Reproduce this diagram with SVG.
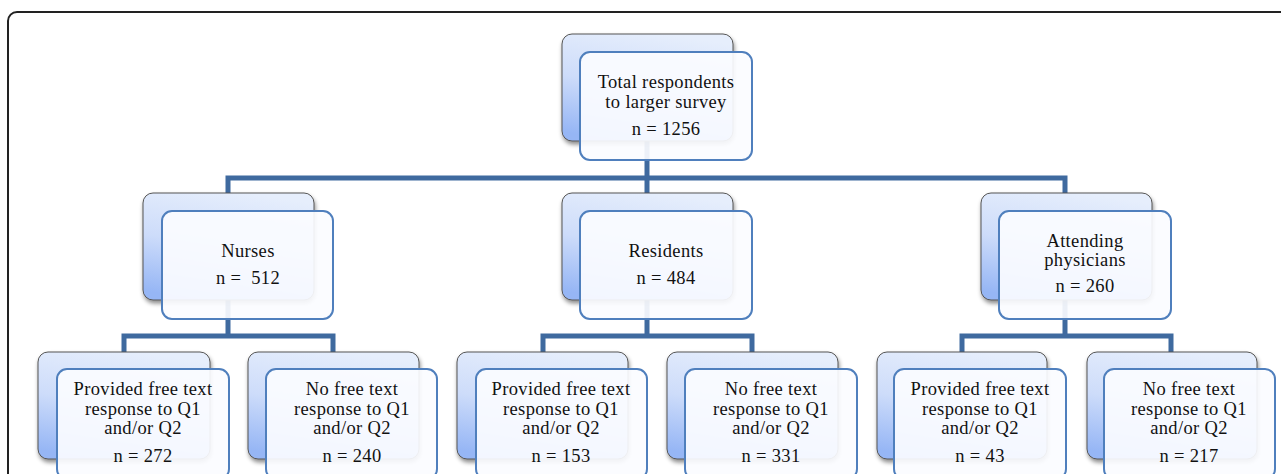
<svg xmlns="http://www.w3.org/2000/svg" width="1281" height="474" viewBox="0 0 1281 474">
<style>
.frame{fill:#fff;stroke:#222;stroke-width:2}
.back{fill:url(#bg);stroke:#555;stroke-width:1;filter:url(#sh)}
.front{fill:#fbfcff;fill-opacity:0.92;stroke:#4f7fbd;stroke-width:2}
.conn{fill:none;stroke:#3f6a9f;stroke-width:5;stroke-linejoin:miter}
text{font-family:"Liberation Serif","Times New Roman",serif;font-size:18.5px;fill:#111;text-anchor:middle;letter-spacing:0.35px}
</style>
<defs>
<linearGradient id="bg" x1="0.6" y1="0" x2="0.35" y2="1">
<stop offset="0" stop-color="#e6eefc"/>
<stop offset="0.5" stop-color="#cddcfa"/>
<stop offset="1" stop-color="#96b6f5"/>
</linearGradient>
<filter id="sh" x="-10%" y="-10%" width="130%" height="130%">
<feDropShadow dx="1" dy="3" stdDeviation="2" flood-color="#000" flood-opacity="0.45"/>
</filter>
</defs>
<rect class="frame" x="8" y="12" width="1300" height="500" rx="9"/>
<g id="connectors">
<path class="conn" d="M647 140 V178 M228 193 V178 H1065 V193 M647 178 V193"/>
<path class="conn" d="M228 300 V336 M124 352 V336 H333 V352"/>
<path class="conn" d="M647 300 V336 M543 352 V336 H752 V352"/>
<path class="conn" d="M1065 300 V336 M962 352 V336 H1171 V352"/>
</g>
<g id="n-total">
<rect class="back" x="562" y="34" width="171" height="107" rx="10"/>
<rect class="front" x="580" y="52" width="172" height="108" rx="10"/>
<text x="666" y="88">Total respondents</text>
<text x="666" y="108">to larger survey</text>
<text x="666" y="135">n = 1256</text>
</g>
<g id="n-nurses">
<rect class="back" x="143" y="193" width="171" height="107" rx="10"/>
<rect class="front" x="162" y="211" width="171" height="108" rx="10"/>
<text x="248" y="257">Nurses</text>
<text x="248" y="284" xml:space="preserve">n =  512</text>
</g>
<g id="n-residents">
<rect class="back" x="562" y="193" width="171" height="107" rx="10"/>
<rect class="front" x="580" y="211" width="172" height="108" rx="10"/>
<text x="666" y="257">Residents</text>
<text x="666" y="284">n = 484</text>
</g>
<g id="n-attending">
<rect class="back" x="981" y="193" width="171" height="107" rx="10"/>
<rect class="front" x="999" y="211" width="172" height="108" rx="10"/>
<text x="1085" y="247">Attending</text>
<text x="1085" y="266">physicians</text>
<text x="1085" y="292">n = 260</text>
</g>
<g id="n-nurses-yes">
<rect class="back" x="38" y="352" width="172" height="107" rx="10"/>
<rect class="front" x="57" y="369" width="172" height="110" rx="10"/>
<text x="143" y="395">Provided free text</text>
<text x="143" y="415">response to Q1</text>
<text x="143" y="434">and/or Q2</text>
<text x="143" y="462">n = 272</text>
</g>
<g id="n-nurses-no">
<rect class="back" x="248" y="352" width="171" height="107" rx="10"/>
<rect class="front" x="266" y="369" width="171" height="110" rx="10"/>
<text x="352" y="395">No free text</text>
<text x="352" y="415">response to Q1</text>
<text x="352" y="434">and/or Q2</text>
<text x="352" y="462">n = 240</text>
</g>
<g id="n-residents-yes">
<rect class="back" x="457" y="352" width="171" height="107" rx="10"/>
<rect class="front" x="476" y="369" width="171" height="110" rx="10"/>
<text x="561" y="395">Provided free text</text>
<text x="561" y="415">response to Q1</text>
<text x="561" y="434">and/or Q2</text>
<text x="561" y="462">n = 153</text>
</g>
<g id="n-residents-no">
<rect class="back" x="667" y="352" width="171" height="107" rx="10"/>
<rect class="front" x="685" y="369" width="172" height="110" rx="10"/>
<text x="771" y="395">No free text</text>
<text x="771" y="415">response to Q1</text>
<text x="771" y="434">and/or Q2</text>
<text x="771" y="462">n = 331</text>
</g>
<g id="n-attending-yes">
<rect class="back" x="877" y="352" width="170" height="107" rx="10"/>
<rect class="front" x="894" y="369" width="172" height="110" rx="10"/>
<text x="980" y="395">Provided free text</text>
<text x="980" y="415">response to Q1</text>
<text x="980" y="434">and/or Q2</text>
<text x="980" y="462">n = 43</text>
</g>
<g id="n-attending-no">
<rect class="back" x="1087" y="352" width="170" height="107" rx="10"/>
<rect class="front" x="1104" y="369" width="171" height="110" rx="10"/>
<text x="1189" y="395">No free text</text>
<text x="1189" y="415">response to Q1</text>
<text x="1189" y="434">and/or Q2</text>
<text x="1189" y="462">n = 217</text>
</g>
</svg>
